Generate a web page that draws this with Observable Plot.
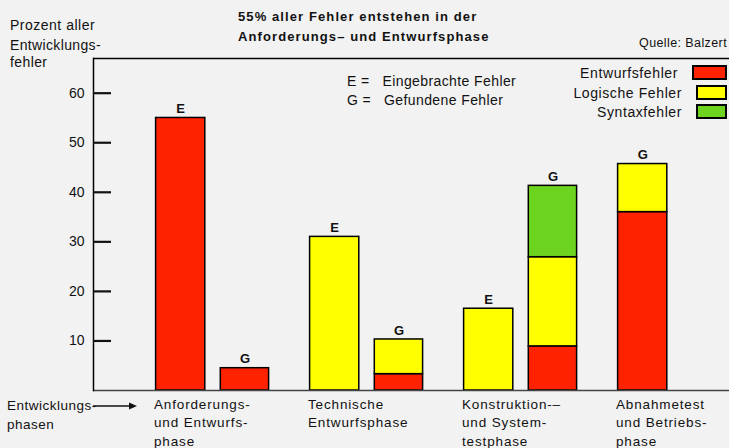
<!DOCTYPE html>
<html><head><meta charset="utf-8">
<script src="https://cdn.jsdelivr.net/npm/d3@7"></script>
<script src="https://cdn.jsdelivr.net/npm/@observablehq/plot@0.6"></script>
<style>
html,body{margin:0;padding:0;background:#f2f2f2;}
#wrap{position:relative;width:729px;height:448px;overflow:hidden;font-family:"Liberation Sans",Arial,sans-serif;color:#111;}
#wrap svg{position:absolute;left:0;top:0;}
.abs{position:absolute;white-space:pre;line-height:1;}
.sw{position:absolute;width:31px;height:11px;border:2px solid #000;}
</style></head><body><div id="wrap"></div>
<script>
// ---- data ----
const slots = ["Anf-E","Anf-G","Tech-E","Tech-G","Kons-E","Kons-G","Abn-G"];
const slotMarker = ["E","G","E","G","E","G","G"];
const errorTypes = ["Entwurfsfehler","Logische Fehler","Syntaxfehler"];
const typeColors = ["#ff2200","#ffff00","#6cd41e"];
const entwurfsfehler = [55, 4.5, 0, 3.3, 0, 8.9, 36];
const logischeFehler = [0, 0, 31, 7.0, 16.5, 18.0, 9.7];
const syntaxfehler   = [0, 0, 0, 0, 0, 14.4, 0];
const phaseNames = ["Anforderungs-\nund Entwurfs-\nphase","Technische\nEntwurfsphase","Konstruktion-–\nund System-\ntestphase","Abnahmetest\nund Betriebs-\nphase"];
const phaseSlots = ["Anf-E","Tech-E","Kons-E","Abn-G"];
const yTicks = [10,20,30,40,50,60];
const yMax = 67;

// ---- build tables ----
const series = [entwurfsfehler, logischeFehler, syntaxfehler];
const rows = [];
slots.forEach((s, i) => {
  series.forEach((vals, t) => {
    if (vals[i] > 0) rows.push({slot: s, type: errorTypes[t], value: vals[i], side: i % 2});
  });
});
const totals = slots.map((s, i) => ({slot: s, marker: slotMarker[i], total: series.reduce((a, v) => a + v[i], 0)}));
const phases = phaseNames.map((n, i) => ({name: n, slot: phaseSlots[i]}));

const barStyle = {x: "slot", y: "value", fill: "type", stroke: "#000", strokeWidth: 1.5};

const chart = Plot.plot({
  width: 729, height: 448,
  marginLeft: 93, marginRight: 0, marginTop: 58, marginBottom: 58,
  style: {background: "transparent", fontFamily: "Liberation Sans, Arial, sans-serif", fontSize: "14px", color: "#111"},
  x: {domain: slots, paddingInner: 0, paddingOuter: 0.59, align: 0.435, axis: null},
  y: {domain: [0, yMax], axis: null},
  color: {domain: errorTypes, range: typeColors},
  marks: [
    Plot.ruleY([yMax], {stroke: "#000", strokeWidth: 1.5}),
    Plot.barY(rows.filter(d => d.side === 0), {...barStyle, insetLeft: 20.6, insetRight: 7.2}),
    Plot.barY(rows.filter(d => d.side === 1), {...barStyle, insetLeft: 8.3, insetRight: 20.4}),
    Plot.ruleY([0], {stroke: "#444", strokeWidth: 1.5}),
    Plot.frame({anchor: "left", stroke: "#000", strokeWidth: 1.5}),
    Plot.axisY(yTicks, {tickSize: -18, tickPadding: 27, strokeWidth: 2.2, fontSize: 14, label: null}),
    Plot.text(totals.filter((d, i) => i % 2 === 0), {x: "slot", y: "total", text: "marker", dy: -9, dx: 6.7, fontWeight: "bold", fontSize: 13}),
    Plot.text(totals.filter((d, i) => i % 2 === 1), {x: "slot", y: "total", text: "marker", dy: -9, dx: -6, fontWeight: "bold", fontSize: 13}),
    Plot.text(phases, {x: "slot", text: "name", frameAnchor: "bottom", textAnchor: "start", lineAnchor: "top", dy: 5, dx: -20, fontSize: 13.5, lineHeight: 1.37})
  ]
});
// widen the letter spacing of the multi-line phase labels (only texts with tspans)
d3.select(chart).selectAll("text").filter(function() { return this.querySelector("tspan"); })
  .style("letter-spacing", "0.85px");
const wrap = document.getElementById("wrap");
wrap.appendChild(chart);

function addText(txt, css) {
  const d = document.createElement("div");
  d.className = "abs"; d.textContent = txt;
  Object.assign(d.style, css);
  wrap.appendChild(d);
  return d;
}
addText("55% aller Fehler entstehen in der", {left: "238px", top: "10px", fontWeight: "bold", fontSize: "13px", letterSpacing: "1.1px"});
addText("Anforderungs– und Entwurfsphase", {left: "238px", top: "30px", fontWeight: "bold", fontSize: "13px", letterSpacing: "1.1px"});
addText("Prozent aller", {left: "10px", top: "18px", fontSize: "14px", letterSpacing: "0.5px"});
addText("Entwicklungs-", {left: "10px", top: "38px", fontSize: "14px", letterSpacing: "0.35px"});
addText("fehler", {left: "10px", top: "55px", fontSize: "14px", letterSpacing: "0.4px"});
addText("Quelle: Balzert", {right: "2px", top: "37px", fontSize: "12.5px", letterSpacing: "0.4px"});
addText("E =   Eingebrachte Fehler", {left: "347px", top: "74px", fontSize: "14px", letterSpacing: "0.4px"});
addText("G =   Gefundene Fehler", {left: "347px", top: "93px", fontSize: "14px", letterSpacing: "0.4px"});
const legendRight = [678, 682, 682];
errorTypes.forEach((t, i) => {
  addText(t, {right: (729 - legendRight[i]) + "px", top: (66 + i * 19.5) + "px", fontSize: "14px", letterSpacing: "0.6px"});
  const s = document.createElement("div");
  s.className = "sw";
  Object.assign(s.style, {left: (legendRight[i] + 14) + "px", width: (31 - (legendRight[i] - 678)) + "px", top: (65 + i * 19.5) + "px", background: typeColors[i]});
  wrap.appendChild(s);
});
addText("Entwicklungs-", {left: "7px", top: "399px", fontSize: "13.5px", letterSpacing: "0.5px"});
addText("phasen", {left: "7px", top: "418px", fontSize: "13.5px", letterSpacing: "0.5px"});
const ns = "http://www.w3.org/2000/svg";
const arr = document.createElementNS(ns, "svg");
arr.setAttribute("width", "50"); arr.setAttribute("height", "10");
Object.assign(arr.style, {position: "absolute", left: "93px", top: "401px"});
arr.innerHTML = '<line x1="0" y1="5" x2="38" y2="5" stroke="#111" stroke-width="1.5"/><path d="M36,1.5 L44,5 L36,8.5 Z" fill="#111"/>';
wrap.appendChild(arr);
</script></body></html>
